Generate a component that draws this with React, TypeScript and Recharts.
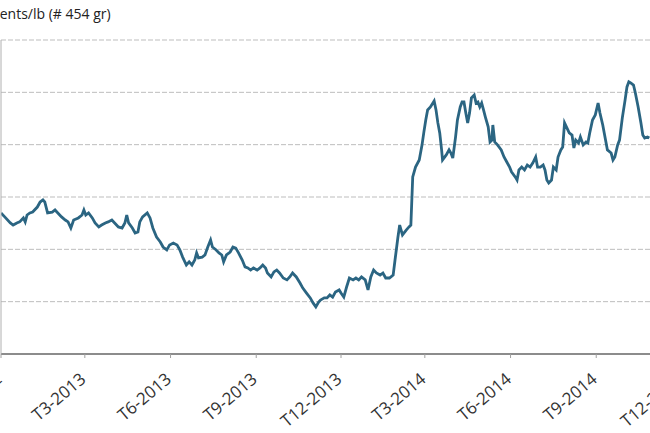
import { LineChart, Line, XAxis, YAxis, CartesianGrid } from 'recharts';

// days since 1 Dec 2012
const days = [
  0, 4, 10, 13, 17, 20, 24, 26, 28, 31, 34, 39, 42, 45, 47, 50, 55, 58, 61, 65, 69, 72, 75, 78, 83, 87, 89, 91, 94, 98,
  101, 105, 108, 112, 115, 119, 122, 126, 130, 133, 135, 137, 141, 144, 147, 149, 152, 157, 160, 163, 167, 171, 174,
  178, 181, 185, 189, 192, 195, 199, 202, 205, 208, 210, 212, 216, 219, 222, 225, 227, 231, 234, 237, 239, 242, 246,
  249, 252, 255, 259, 262, 265, 268, 271, 275, 278, 281, 284, 286, 290, 293, 296, 299, 303, 307, 310, 313, 317, 321,
  324, 328, 332, 335, 338, 341, 343, 347, 350, 353, 356, 359, 363, 365, 368, 371, 374, 378, 381, 384, 387, 391, 394,
  397, 400, 403, 407, 410, 413, 417, 421, 423, 426, 428, 431, 435, 438, 440, 442, 445, 449, 452, 454, 456, 458, 461,
  465, 467, 469, 471, 473, 474, 478, 481, 483, 485, 488, 490, 493, 495, 497, 499, 501, 503, 505, 508, 510, 512, 514,
  516, 518, 520, 523, 525, 527, 528, 530, 533, 537, 540, 543, 546, 548, 552, 554, 556, 559, 562, 565, 568, 571, 574,
  576, 579, 582, 584, 586, 588, 591, 593, 596, 598, 601, 603, 605, 607, 610, 613, 615, 617, 620, 622, 625, 628, 630,
  632, 635, 638, 641, 643, 646, 649, 651, 655, 657, 659, 662, 664, 667, 670, 672, 674, 676, 679, 681, 684, 687, 689,
  691, 694, 696,
];

// US cents/lb
const prices = [
  142.4, 140.5, 137.6, 136.6, 137.6, 138.1, 140.0, 138.1, 141.4, 142.4, 142.8, 145.2, 147.6, 148.6, 147.6, 142.4, 142.8,
  143.8, 142.4, 140.5, 139.0, 138.1, 135.2, 139.0, 140.0, 141.4, 143.8, 141.4, 142.4, 140.0, 137.6, 135.7, 136.6, 137.6,
  138.1, 139.0, 137.6, 135.7, 135.2, 137.6, 141.4, 137.6, 135.2, 132.8, 133.3, 138.1, 140.5, 142.4, 140.0, 135.2, 130.9,
  128.5, 126.1, 124.7, 127.1, 128.0, 127.1, 124.7, 121.3, 117.5, 119.0, 117.5, 119.9, 123.3, 120.9, 121.3, 122.3, 126.1,
  129.5, 126.1, 124.7, 123.3, 122.3, 119.0, 122.3, 123.7, 126.1, 125.6, 123.3, 119.9, 116.6, 116.1, 115.1, 116.1, 115.1,
  116.1, 117.5, 116.1, 113.7, 111.8, 114.2, 115.1, 113.7, 111.3, 110.4, 111.8, 113.7, 111.8, 108.9, 106.5, 104.1, 101.8,
  99.4, 97.5, 99.8, 100.8, 101.8, 101.8, 103.2, 102.2, 104.6, 105.6, 104.1, 102.2, 107.0, 111.3, 110.4, 111.3, 110.4,
  111.8, 110.4, 105.6, 111.8, 115.1, 113.7, 112.7, 113.7, 111.3, 111.3, 112.7, 119.9, 130.4, 136.6, 131.9, 134.2, 135.7,
  136.6, 159.6, 164.3, 167.7, 174.9, 181.1, 186.8, 191.6, 193.0, 195.9, 191.6, 185.4, 180.6, 172.5, 167.7, 170.1, 172.5,
  171.0, 168.6, 178.7, 186.8, 193.0, 195.4, 195.4, 190.1, 185.4, 190.1, 197.3, 198.7, 194.9, 195.4, 193.0, 194.9, 191.6,
  188.2, 183.5, 176.3, 177.2, 184.4, 176.3, 174.9, 172.5, 169.1, 166.7, 164.3, 162.0, 159.6, 158.1, 162.9, 164.3, 162.9,
  165.3, 164.3, 166.3, 169.1, 164.3, 164.3, 165.3, 162.9, 158.1, 156.7, 158.1, 164.3, 162.9, 169.1, 172.5, 173.9, 185.4,
  183.5, 180.6, 179.6, 173.4, 177.2, 175.8, 178.7, 174.9, 176.3, 175.8, 180.6, 186.8, 189.2, 194.9, 190.1, 184.4, 177.2,
  172.5, 171.0, 167.7, 169.1, 174.9, 177.2, 187.8, 196.4, 202.6, 205.0, 204.5, 203.5, 199.7, 193.0, 185.4, 179.6, 178.2,
  178.7, 178.2,
];

const tickDays = [0, 90, 182, 274, 365, 455, 547, 639, 730];
const tickLabels = ['T12-2012', 'T3-2013', 'T6-2013', 'T9-2013', 'T12-2013', 'T3-2014', 'T6-2014', 'T9-2014', 'T12-2014'];
const priceTicks = [75, 100, 125, 150, 175, 200, 225];

const data = days.map((d, i) => ({ day: d, price: prices[i] }));

const font = '"Open Sans", "Noto Sans", sans-serif';

const QuarterTick = (props: any) => {
  const { x, y, payload } = props;
  const label = tickLabels[tickDays.indexOf(payload.value)] ?? '';
  return (
    <g transform={`translate(${x + 2},${y + 21})`}>
      <text textAnchor="end" fontSize={17} fill="#333" fontFamily={font} transform="rotate(-40)">
        {label}
      </text>
    </g>
  );
};

const NoTick = () => <g />;

export default function App() {
  return (
    <div
      style={{
        position: 'fixed',
        left: 0,
        top: 0,
        width: 650,
        height: 433,
        overflow: 'hidden',
        background: '#fff',
      }}
    >
      <div
        style={{
          position: 'absolute',
          left: -7,
          top: 4,
          fontFamily: font,
          fontSize: 14,
          color: '#222',
          whiteSpace: 'nowrap',
        }}
      >
        cents/lb (# 454 gr)
      </div>
      <div style={{ position: 'absolute', left: 0, top: 0 }}>
        <LineChart width={700} height={433} data={data} margin={{ top: 40, right: 19, left: 0, bottom: 0 }}>
          <CartesianGrid vertical={false} stroke="#bdbdbd" strokeDasharray="5 2" />
          <XAxis
            dataKey="day"
            type="number"
            domain={[0, 730]}
            ticks={tickDays}
            interval={0}
            allowDataOverflow
            height={79}
            axisLine={{ stroke: '#8c8c8c', strokeWidth: 2 }}
            tickLine={{ stroke: '#a0a0a0' }}
            tickSize={4}
            tickMargin={2}
            tick={<QuarterTick />}
          />
          <YAxis
            type="number"
            domain={[75, 225]}
            ticks={priceTicks}
            interval={0}
            width={1}
            tick={<NoTick />}
            tickLine={false}
            axisLine={{ stroke: '#b0b0b0' }}
          />
          <Line
            type="linear"
            dataKey="price"
            stroke="#2b6582"
            strokeWidth={2.8}
            dot={false}
            isAnimationActive={false}
          />
        </LineChart>
      </div>
    </div>
  );
}
